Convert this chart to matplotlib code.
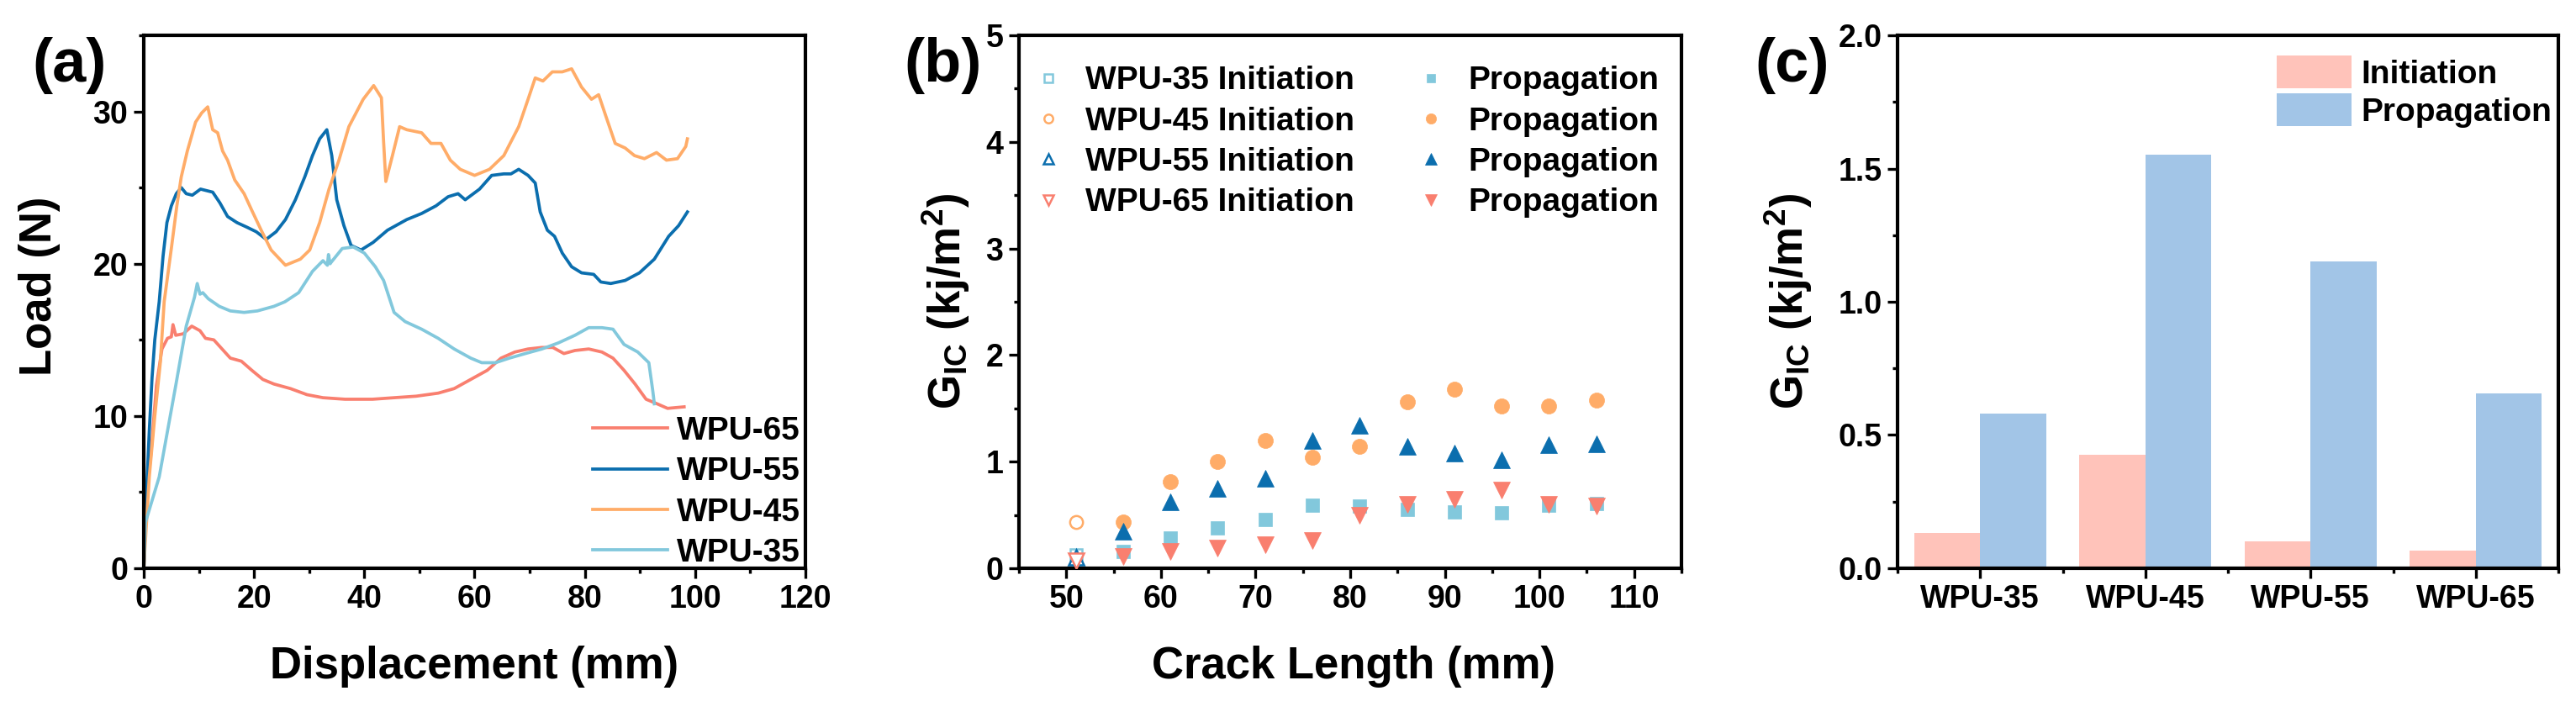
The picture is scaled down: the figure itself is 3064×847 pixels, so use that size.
import matplotlib
matplotlib.use("Agg")
import matplotlib.pyplot as plt
from matplotlib.ticker import MultipleLocator, FixedLocator, FormatStrFormatter

plt.rcParams['font.family'] = ['Liberation Sans', 'DejaVu Sans']
plt.rcParams['font.weight'] = 'bold'
plt.rcParams['axes.labelweight'] = 'bold'
plt.rcParams['mathtext.fontset'] = 'custom'
plt.rcParams['mathtext.rm'] = 'Liberation Sans:bold'
plt.rcParams['mathtext.bf'] = 'Liberation Sans:bold'
plt.rcParams['mathtext.it'] = 'Liberation Sans:bold:italic'

# ---------------- data: panel (a) load-displacement ----------------
wpu65_x = [0, 0.3, 1.3, 2.3, 3.3, 4.3, 5.0, 5.3, 5.8, 7.2, 8.7, 10.2, 11.2, 12.7, 14.2, 15.7, 17.7, 19.6, 21.6, 23.6,
           26.6, 29.6, 32.5, 36.5, 41.5, 45.4, 49.4, 53.4, 56.3, 59.3, 62.3, 64.8, 67.3, 69.7, 72.2, 74.2, 76.2, 78.2,
           80.7, 83.1, 85.1, 87.1, 89.1, 91.1, 93.1, 95.0, 98.0]
wpu65_y = [0, 4, 7.5, 12.0, 14.4, 15.1, 15.2, 16.0, 15.3, 15.4, 15.9, 15.6, 15.1, 15.0, 14.4, 13.8, 13.6, 13.0, 12.4, 12.1,
           11.8, 11.4, 11.2, 11.1, 11.1, 11.2, 11.3, 11.5, 11.8, 12.4, 13.0, 13.8, 14.2, 14.4, 14.5, 14.5, 14.1, 14.3,
           14.4, 14.2, 13.8, 13.0, 12.1, 11.1, 10.8, 10.5, 10.6]

wpu55_x = [0, 0.5, 1.0, 1.5, 2.0, 2.8, 3.5, 4.2, 5.0, 5.9, 6.8, 7.7, 8.8, 10.3, 12.5, 13.8, 15.2, 16.9, 18.7, 20.4,
           22.2, 24.0, 25.7, 27.5, 29.2, 30.6, 31.9, 33.2, 34.1, 35.0, 36.3, 37.6, 39.4, 41.6, 44.2, 47.7, 50.4, 53.0,
           55.2, 57.0, 58.3, 60.9, 63.1, 65.3, 66.6, 68.0, 69.7, 71.0, 71.9, 73.2, 74.5, 75.9, 77.6, 79.4, 81.6, 82.9,
           84.7, 87.3, 89.9, 92.6, 95.2, 97.0, 98.6]
wpu55_y = [0, 5, 9, 12.5, 15, 17.5, 20.5, 22.7, 23.8, 24.6, 25.0, 24.6, 24.5, 24.9, 24.7, 24.0, 23.1, 22.7, 22.4, 22.1,
           21.6, 22.1, 22.9, 24.2, 25.7, 27.1, 28.2, 28.8, 27.1, 24.2, 22.5, 21.2, 20.9, 21.4, 22.2, 22.9, 23.3, 23.8,
           24.4, 24.6, 24.2, 24.9, 25.8, 25.9, 25.9, 26.2, 25.8, 25.3, 23.4, 22.2, 21.8, 20.7, 19.8, 19.4, 19.3, 18.8,
           18.7, 18.9, 19.4, 20.3, 21.8, 22.5, 23.4]

wpu45_x = [0, 1, 2, 3, 3.7, 5, 6, 6.8, 7.9, 9.4, 10.5, 11.6, 12.5, 13.4, 14.3, 15.2, 16.5, 18.2, 19.6, 21.3,
           23.1, 25.7, 28.4, 30.1, 31.9, 33.6, 35.4, 37.2, 39.8, 41.7, 43.1, 43.5, 43.9, 45.1, 46.4, 47.7, 50.4, 52.1,
           53.9, 55.6, 57.4, 60.0, 62.7, 65.3, 68.0, 69.7, 71.0, 72.4, 74.1, 75.9, 77.6, 79.4, 81.2, 82.5, 83.8, 85.5,
           87.3, 89.0, 90.8, 93.0, 94.8, 96.8, 98.3, 98.6]
wpu45_y = [0, 6, 10, 13.5, 17.5, 21, 23.8, 25.7, 27.4, 29.3, 29.9, 30.3, 28.8, 28.6, 27.4, 26.8, 25.5, 24.6, 23.5, 22.2,
           20.9, 19.9, 20.3, 20.9, 22.7, 24.9, 26.8, 29.0, 30.8, 31.7, 30.9, 28.0, 25.4, 27.1, 29.0, 28.8, 28.6, 27.9,
           27.9, 26.8, 26.2, 25.8, 26.2, 27.1, 29.0, 30.8, 32.2, 32.0, 32.6, 32.6, 32.8, 31.6, 30.8, 31.1, 29.7, 27.9,
           27.6, 27.1, 26.9, 27.3, 26.8, 26.9, 27.7, 28.2]

wpu35_x = [0, 0.3, 2.8, 5.8, 7.7, 9.2, 9.7, 10.2, 10.7, 11.7, 13.7, 15.7, 18.2, 20.6, 23.6, 25.6, 28.1, 30.6, 32.5, 33.3,
           33.5, 33.8, 34.0, 36.0, 38.0, 40.0, 42.0, 43.5, 45.4, 47.4, 50.4, 53.4, 56.3, 59.3, 61.3, 63.8, 66.3, 69.2,
           72.2, 75.2, 78.2, 80.7, 83.1, 85.1, 87.1, 89.6, 91.6, 92.3, 92.6]
wpu35_y = [0, 3, 6.0, 12.0, 15.9, 17.8, 18.7, 18.0, 18.1, 17.7, 17.2, 16.9, 16.8, 16.9, 17.2, 17.5, 18.1, 19.5, 20.2, 19.9,
           20.6, 20.0, 20.1, 21.0, 21.1, 20.7, 19.8, 18.9, 16.8, 16.2, 15.7, 15.1, 14.4, 13.8, 13.5, 13.5, 13.8, 14.1,
           14.4, 14.8, 15.3, 15.8, 15.8, 15.7, 14.7, 14.2, 13.5, 11.7, 10.8]

# ---------------- data: panel (b) G_IC vs crack length ----------------
init_x = [51]
init35 = [0.13]
init45 = [0.43]
init55 = [0.10]
init65 = [0.07]
prop_x = [56, 61, 66, 71, 76, 81, 86, 91, 96, 101, 106]
prop35 = [0.16, 0.28, 0.38, 0.46, 0.59, 0.58, 0.55, 0.53, 0.52, 0.59, 0.61]
prop45 = [0.43, 0.81, 1.00, 1.20, 1.04, 1.14, 1.56, 1.68, 1.52, 1.52, 1.58]
prop55 = [0.35, 0.62, 0.75, 0.84, 1.20, 1.34, 1.14, 1.08, 1.02, 1.16, 1.17]
prop65 = [0.11, 0.16, 0.19, 0.22, 0.26, 0.50, 0.60, 0.65, 0.73, 0.60, 0.58]

# ---------------- data: panel (c) bars ----------------
samples = ['WPU-35', 'WPU-45', 'WPU-55', 'WPU-65']
bar_init = [0.131, 0.427, 0.102, 0.067]
bar_prop = [0.582, 1.551, 1.150, 0.657]

c35 = '#82C8DC'
c45 = '#FFAC68'
c55 = '#0B6EAE'
c65 = '#F97F6F'
c_bar_init = '#FFC3BA'
c_bar_prop = '#A2C5E7'

FS_TICK = 27
FS_LAB = 38
FS_LEG = 28

fig = plt.figure(figsize=(30.64, 8.47), dpi=100)
axa = fig.add_axes([0.05581, 0.2019, 0.25685, 0.7485])
axb = fig.add_axes([0.39556, 0.2019, 0.25718, 0.7485])
axc = fig.add_axes([0.73662, 0.2019, 0.25653, 0.7485])


def style(ax):
    for s in ax.spines.values():
        s.set_linewidth(3.0)
    ax.tick_params(which='major', direction='out', length=8.5, width=2.4, labelsize=FS_TICK, pad=5,
                   top=False, right=False)
    ax.tick_params(which='minor', direction='out', length=4.5, width=2.4, top=False, right=False)


# ---- (a) ----
lw = 2.7
axa.plot(wpu65_x, wpu65_y, color=c65, lw=lw, label='WPU-65')
axa.plot(wpu55_x, wpu55_y, color=c55, lw=lw, label='WPU-55')
axa.plot(wpu45_x, wpu45_y, color=c45, lw=lw, label='WPU-45')
axa.plot(wpu35_x, wpu35_y, color=c35, lw=lw, label='WPU-35')
axa.set_xlim(0, 120)
axa.set_ylim(0, 35)
axa.xaxis.set_major_locator(MultipleLocator(20))
axa.xaxis.set_minor_locator(MultipleLocator(10))
axa.yaxis.set_major_locator(MultipleLocator(10))
axa.yaxis.set_minor_locator(MultipleLocator(5))
style(axa)
axa.set_xlabel('Displacement (mm)', fontsize=FS_LAB, fontweight='bold')
axa.set_ylabel('Load (N)', fontsize=FS_LAB, fontweight='bold')
axa.xaxis.set_label_coords(0.5, -0.145)
axa.yaxis.set_label_coords(-0.126, 0.53)
axa.legend(loc='upper left', bbox_to_anchor=(0.6785, 0.286), frameon=False, fontsize=FS_LEG,
           borderpad=0, borderaxespad=0, handlelength=2.29, handletextpad=0.28, labelspacing=0.32)

# ---- (b) ----
ms_c, ms_s, ms_t = 13, 11.5, 14.5
mew = 1.8
series = [
    (init35, prop35, 's', ms_s, c35, 'WPU-35'),
    (init45, prop45, 'o', ms_c, c45, 'WPU-45'),
    (init55, prop55, '^', ms_t, c55, 'WPU-55'),
    (init65, prop65, 'v', ms_t, c65, 'WPU-65'),
]
init_handles, prop_handles = [], []
for ini, pro, mk, ms, col, name in series:
    h1, = axb.plot(init_x, ini, linestyle='none', marker=mk, ms=ms * 0.85, mfc='white', mec=col, mew=mew,
                   label=name + ' Initiation', zorder=3)
    init_handles.append(h1)
for ini, pro, mk, ms, col, name in series:
    h2, = axb.plot(prop_x, pro, linestyle='none', marker=mk, ms=ms, mfc=col, mec=col, mew=0.5,
                   label='Propagation', zorder=3)
    prop_handles.append(h2)
axb.set_xlim(45, 115)
axb.set_ylim(0, 5)
axb.xaxis.set_major_locator(MultipleLocator(10))
axb.xaxis.set_minor_locator(MultipleLocator(5))
axb.yaxis.set_major_locator(MultipleLocator(1))
axb.yaxis.set_minor_locator(MultipleLocator(0.5))
style(axb)
axb.set_xlabel('Crack Length (mm)', fontsize=FS_LAB, fontweight='bold')
axb.set_ylabel(r'G$_{\mathbf{IC}}$ (kj/m$^{\mathbf{2}}$)', fontsize=FS_LAB, fontweight='bold')
axb.xaxis.set_label_coords(0.505, -0.145)
axb.yaxis.set_label_coords(-0.071, 0.5)
axb.legend(handles=init_handles + prop_handles, ncol=2, loc='upper left', bbox_to_anchor=(0.0198, 0.943),
           frameon=False, fontsize=FS_LEG, borderpad=0, borderaxespad=0, handlelength=1.0,
           handletextpad=0.63, labelspacing=0.32, columnspacing=1.84, markerscale=0.68)

# ---- (c) ----
pos = list(range(len(samples)))
bw = 0.4
axc.bar([p - bw / 2 for p in pos], bar_init, width=bw, color=c_bar_init, label='Initiation')
axc.bar([p + bw / 2 for p in pos], bar_prop, width=bw, color=c_bar_prop, label='Propagation')
axc.set_xlim(-0.5, 3.5)
axc.set_ylim(0, 2.0)
axc.set_xticks(pos)
axc.set_xticklabels(samples)
axc.xaxis.set_minor_locator(FixedLocator([-0.5, 0.5, 1.5, 2.5, 3.5]))
axc.yaxis.set_major_locator(MultipleLocator(0.5))
axc.yaxis.set_minor_locator(MultipleLocator(0.25))
axc.yaxis.set_major_formatter(FormatStrFormatter('%.1f'))
style(axc)
axc.set_ylabel(r'G$_{\mathbf{IC}}$ (kj/m$^{\mathbf{2}}$)', fontsize=FS_LAB, fontweight='bold')
axc.yaxis.set_label_coords(-0.126, 0.5)
axc.legend(loc='upper left', bbox_to_anchor=(0.574, 0.962), frameon=False, fontsize=FS_LEG,
           borderpad=0, borderaxespad=0, handlelength=2.29, handleheight=1.16, handletextpad=0.28,
           labelspacing=0.12)

# panel letters
for xf, t in [(38 / 3064, '(a)'), (1075 / 3064, '(b)'), (2087 / 3064, '(c)')]:
    fig.text(xf, 1 - 97 / 847, t, fontsize=52, fontweight='bold', ha='left', va='baseline')

fig.savefig('out.png', dpi=100)
